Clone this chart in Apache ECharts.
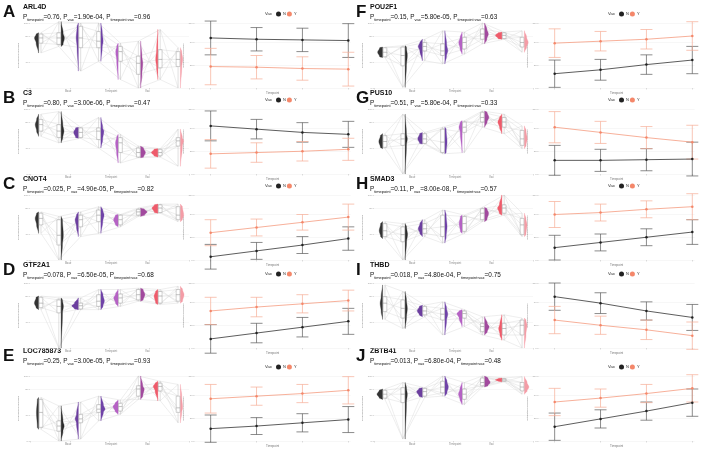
<!DOCTYPE html>
<html><head><meta charset="utf-8">
<script src="https://cdn.jsdelivr.net/npm/echarts@6/dist/echarts.min.js"></script>
<style>html,body{margin:0;padding:0;background:#fff}#c{width:708px;height:454px}</style>
</head><body><div id="c"></div>
<script>
// ---------- data ----------
const panelLetters = ['A','B','C','D','E','F','G','H','I','J'];
const genes = ['ARL4D','C3','CNOT4','GTF2A1','LOC785873','POU2F1','PUS10','SMAD3','THBD','ZBTB41'];
const pTimepoint = ['0.76','0.80','0.025','0.078','0.25','0.15','0.51','0.11','0.018','0.013'];
const pVax = ['1.90e-04','3.00e-06','4.90e-05','6.50e-05','3.00e-05','5.80e-05','5.80e-04','8.00e-08','4.80e-04','6.80e-04'];
const pInteraction = ['0.96','0.47','0.82','0.68','0.93','0.63','0.33','0.57','0.75','0.48'];
const groups = ['N-1','N-2','N-3','N-4','Y-1','Y-2','Y-3','Y-4'];
const timepoints = [1, 2, 3, 4];
const violinAxisLabels = ['Base', 'Timepoint', 'Vax'];

// per group: [min, q1, median, q3, max]
const statsA = [[54,69,77,83,85],[64,67,77,85,102],[26,62,77,95,100],[41,62,72,87,100],[13,41,56,64,69],[0,21,38,49,72],[13,31,44,59,90],[0,33,44,56,62]];
const statsB = [[58,66,76,84,92],[48,56,66,76,96],[55,56,64,71,72],[40,53,66,71,87],[17,33,48,56,61],[25,26,33,40,43],[26,28,33,38,39],[12,43,51,56,69]];
const statsC = [[41,54,64,72,74],[0,23,38,62,67],[36,51,62,69,74],[41,59,69,77,82],[51,54,62,69,70],[67,69,74,78,80],[72,73,80,85,86],[59,62,69,82,86]];
const statsD = [[59,62,69,78,80],[0,54,64,74,77],[59,60,65,69,77],[59,64,72,82,90],[64,69,77,83,90],[72,74,82,90,92],[67,69,80,87,90],[69,72,82,90,95]];
const statsE = [[18,21,44,64,67],[0,15,23,31,54],[3,28,34,41,60],[31,44,49,56,69],[41,46,53,58,63],[64,69,80,85,100],[62,77,84,89,92],[28,44,51,69,87]];
const statsF = [[47,48,55,62,63],[1,34,50,63,65],[42,57,64,70,75],[37,50,57,68,88],[52,60,70,78,86],[68,75,83,91,100],[75,76,81,85,86],[55,63,70,78,88]];
const statsG = [[39,41,50,59,62],[0,44,54,62,92],[46,47,54,62,64],[31,33,49,69,72],[33,64,72,80,82],[72,80,87,95,97],[62,72,80,87,92],[39,44,54,67,74]];
const statsH = [[33,36,45,56,59],[0,28,39,51,56],[36,41,48,56,62],[26,36,51,69,77],[41,44,56,67,69],[59,62,72,79,81],[69,72,80,85,100],[36,39,54,64,72]];
const statsI = [[44,56,69,79,97],[30,46,61,74,87],[48,51,57,64,66],[20,43,52,61,71],[33,46,53,57,59],[20,25,33,38,48],[12,20,30,38,51],[0,20,35,43,46]];
const statsJ = [[64,66,72,78,80],[3,59,72,82,90],[67,69,76,81,82],[69,74,83,92,100],[56,64,72,80,90],[83,85,90,97,100],[91,92,94,96,97],[72,77,83,90,99]];

// line plots: mean and error half-width per timepoint
const meanN = [[77,75,74,73],[74,69,64,61],[5,14,23,33],[14,23,32,41],[19,23,28,33],[22,28,36,43],[21,21,22,23],[19,27,35,43],[79,69,57,47],[22,34,46,59]];
const errN  = [[26,18,18,26],[23,15,15,20],[19,13,13,18],[22,15,15,20],[21,13,14,20],[21,16,15,21],[23,17,17,26],[19,13,13,19],[21,16,14,20],[21,14,14,21]];
const meanY = [[33,32,30,29],[31,33,35,38],[42,50,58,66],[57,63,68,73],[65,69,73,78],[69,72,75,80],[72,64,56,49],[70,73,78,82],[43,35,28,19],[60,66,73,81]];
const errY  = [[28,18,18,26],[22,15,15,17],[20,13,12,20],[21,15,14,16],[22,14,14,21],[22,15,15,22],[24,17,17,26],[20,13,13,20],[21,14,15,21],[21,14,14,21]];

const violinStats = [statsA,statsB,statsC,statsD,statsE,statsF,statsG,statsH,statsI,statsJ];

// ---------- layout & styles ----------
const violinColors = ['#333333','#2b2b2b','#6c3f9f','#7043a8','#b562c4','#a24a9e','#ee5b6b','#f49ca6'];
const colN = '#222222', colY = '#f4876a';
const errColN = '#5a5a5a', errColY = '#f6ad96';
const FONT = 'Liberation Sans, Arial, sans-serif';
const ROW_H = 86;
const GRID_BOTTOM = [88, 174, 260, 348, 441];
const GRID_H = 65;

const chart = echarts.init(document.getElementById('c'), null, {renderer:'canvas'});
const grids=[], xAxes=[], yAxes=[], series=[], graphics=[], legends=[];

function violinRender(params, api){
  const i = api.value(0);
  const s = [1,2,3,4,5].map(d=>api.value(d));
  const c = api.coord([i, 0])[0];
  const isLeft = i % 2 === 0;
  const base = isLeft ? c - 1.3 : c + 1.3;
  const dir = isLeft ? -1 : 1;
  const iqr = Math.max(s[3]-s[1], 0.5);
  const W = Math.max(2.2, Math.min(6.5, 90/(iqr + 0.25*(s[4]-s[0]))));
  const nodes = [[s[0],0.05],[s[1],0.6],[s[2],1],[s[3],0.6],[s[4],0.05]];
  const pts = [[base, api.coord([i,s[0]])[1]]];
  const N = 40;
  for (let k=0;k<=N;k++){
    const v = s[0] + (s[4]-s[0])*k/N;
    let f = 0;
    for (let j=0;j<4;j++){
      if (v >= nodes[j][0] && v <= nodes[j+1][0]){
        const len = nodes[j+1][0]-nodes[j][0];
        const t = len>0 ? (v-nodes[j][0])/len : 1;
        const e = (1-Math.cos(Math.PI*t))/2;
        f = nodes[j][1] + (nodes[j+1][1]-nodes[j][1])*e;
        break;
      }
    }
    pts.push([base + dir*W*f, api.coord([i,v])[1]]);
  }
  pts.push([base, api.coord([i,s[4]])[1]]);
  const bw = 3.8;
  const bx0 = isLeft ? c - 0.9 : c - 2.9;
  const bc = bx0 + bw/2;
  const y = s.map(v=>api.coord([i,v])[1]);
  const col = violinColors[i];
  return {type:'group', children:[
    {type:'polygon', shape:{points:pts}, style:{fill:col, stroke:col, lineWidth:0.3}},
    {type:'line', shape:{x1:bc,y1:y[3],x2:bc,y2:y[4]}, style:{stroke:'#b0b0b0', lineWidth:0.4}},
    {type:'line', shape:{x1:bc,y1:y[1],x2:bc,y2:y[0]}, style:{stroke:'#b0b0b0', lineWidth:0.4}},
    {type:'rect', shape:{x:bx0, y:y[3], width:bw, height:Math.max(0.5,y[1]-y[3])}, style:{fill:'rgba(255,255,255,0.6)', stroke:'#9a9a9a', lineWidth:0.45}},
    {type:'line', shape:{x1:bx0,y1:y[2],x2:bx0+bw,y2:y[2]}, style:{stroke:'#8a8a8a', lineWidth:0.5}}
  ]};
}
function boxCenterOffset(i){ return i % 2 === 0 ? 1 : -1; }
function meshRender(params, api){
  const i0 = api.value(0), i1 = api.value(2);
  const a = api.coord([i0, api.value(1)]);
  const b = api.coord([i1, api.value(3)]);
  return {type:'line', shape:{x1:a[0]+boxCenterOffset(i0), y1:a[1], x2:b[0]+boxCenterOffset(i1), y2:b[1]}, style:{stroke:'#d8d8d8', lineWidth:0.45}};
}
function errRender(color){
  return function(params, api){
    const x = api.value(0), m = api.value(1), e = api.value(2);
    const t = api.coord([x, m+e]), b = api.coord([x, m-e]);
    const hw = 6;
    return {type:'group', children:[
      {type:'line', shape:{x1:t[0],y1:t[1],x2:b[0],y2:b[1]}, style:{stroke:color, lineWidth:0.7}},
      {type:'line', shape:{x1:t[0]-hw,y1:t[1],x2:t[0]+hw,y2:t[1]}, style:{stroke:color, lineWidth:0.7}},
      {type:'line', shape:{x1:b[0]-hw,y1:b[1],x2:b[0]+hw,y2:b[1]}, style:{stroke:color, lineWidth:0.7}}
    ]};
  };
}

for (let p=0;p<10;p++){
  const col = p<5 ? 0 : 1, row = p%5;
  const top = row*ROW_H;
  const vLeft = col ? 374 : 30, vW = 159;
  const lLeft = col ? 538.6 : 194.6, lW = 156;
  const gBottom = GRID_BOTTOM[row];
  const gTop = gBottom - GRID_H;
  const gi = grids.length;
  grids.push({left:vLeft, top:gTop, width:vW, height:GRID_H});
  grids.push({left:lLeft, top:gTop, width:lW, height:GRID_H});
  xAxes.push({type:'category', gridIndex:gi, data:groups, boundaryGap:true,
    axisLine:{show:false}, axisTick:{show:true, length:1.5, lineStyle:{color:'#bbbbbb', width:0.5}},
    axisLabel:{show:false}});
  yAxes.push({type:'value', gridIndex:gi, min:0, max:100, interval:40,
    name:'Normalized expression', nameLocation:'middle', nameGap:5, nameRotate:90,
    nameTextStyle:{fontSize:2.5, color:'#888', fontFamily:FONT},
    axisLine:{show:false}, axisTick:{show:true, length:1.5, lineStyle:{color:'#bbbbbb', width:0.5}},
    axisLabel:{show:true, fontSize:2.5, color:'#999', margin:2, fontFamily:FONT},
    splitLine:{show:true, lineStyle:{color:'#efefef', width:0.5}}});
  xAxes.push({type:'value', gridIndex:gi+1, min:0.65, max:4.05,
    name:'Timepoint', nameLocation:'middle', nameGap:4, nameTextStyle:{fontSize:3, color:'#777', fontFamily:FONT},
    axisLine:{show:false}, axisTick:{show:true, length:1.5, customValues:timepoints, lineStyle:{color:'#bbbbbb', width:0.5}},
    axisLabel:{show:false}, splitLine:{show:false}});
  yAxes.push({type:'value', gridIndex:gi+1, min:0, max:100, interval:35,
    name:'Estimated expression', nameLocation:'middle', nameGap:5, nameRotate:90,
    nameTextStyle:{fontSize:2.5, color:'#888', fontFamily:FONT},
    axisLine:{show:false}, axisTick:{show:true, length:1.5, lineStyle:{color:'#bbbbbb', width:0.5}},
    axisLabel:{show:true, fontSize:2.5, color:'#999', margin:2, fontFamily:FONT},
    splitLine:{show:true, lineStyle:{color:'#efefef', width:0.5}}});
  const xi = xAxes.length-2, yi = yAxes.length-2;
  const st = violinStats[p];
  const mesh = [];
  for (let i=0;i<7;i++){
    for (let k=0;k<5;k++){
      mesh.push([i, st[i][k], i+1, st[i+1][k]]);
      if (k!==2) mesh.push([i, st[i][k], i+1, st[i+1][4-k]]);
    }
  }
  series.push({type:'custom', xAxisIndex:xi, yAxisIndex:yi, renderItem:meshRender,
    data:mesh, encode:{x:[0,2], y:[1,3]}, z:1, silent:true});
  series.push({type:'custom', xAxisIndex:xi, yAxisIndex:yi, renderItem:violinRender,
    data:st.map((s,i)=>[i].concat(s)), encode:{x:0, y:[1,2,3,4,5]}, z:2, silent:true});
  const dN = timepoints.map((t,k)=>[t, meanN[p][k], errN[p][k]]);
  const dY = timepoints.map((t,k)=>[t, meanY[p][k], errY[p][k]]);
  series.push({type:'custom', xAxisIndex:xi+1, yAxisIndex:yi+1, renderItem:errRender(errColN), data:dN, encode:{x:0,y:1}, z:2, silent:true});
  series.push({type:'custom', xAxisIndex:xi+1, yAxisIndex:yi+1, renderItem:errRender(errColY), data:dY, encode:{x:0,y:1}, z:2, silent:true});
  series.push({name:'N', type:'line', xAxisIndex:xi+1, yAxisIndex:yi+1, data:dN.map(d=>[d[0],d[1]]),
    symbol:'circle', symbolSize:2.5, itemStyle:{color:colN}, lineStyle:{color:'#333333', width:0.8}, z:3, silent:true});
  series.push({name:'Y', type:'line', xAxisIndex:xi+1, yAxisIndex:yi+1, data:dY.map(d=>[d[0],d[1]]),
    symbol:'circle', symbolSize:2.5, itemStyle:{color:colY}, lineStyle:{color:'#f59c80', width:0.8}, z:3, silent:true});
  const lgLeft = col ? 619 : 276;
  const lgTop = gTop - 11.5;
  legends.push({left:lgLeft, top:lgTop, padding:0, data:['N','Y'], icon:'circle', itemWidth:5, itemHeight:5, itemGap:1,
    selectedMode:false, textStyle:{fontSize:4, color:'#333', fontFamily:FONT, padding:[0,0,0,-3]}});
  graphics.push({type:'text', left:lgLeft-11, top:lgTop+0.5, style:{text:'Vax', fontSize:4.2, fill:'#333', fontFamily:FONT}});
  const tx = col ? 356 : 3;
  graphics.push({type:'text', left:tx, top:top+4, style:{text:panelLetters[p], font:'bold 17px '+FONT, fill:'#111'}});
  const gx = col ? 370 : 23;
  graphics.push({type:'text', left:gx, top:top+4, style:{text:genes[p], font:'bold 7px '+FONT, fill:'#111'}});
  graphics.push({type:'text', left:gx, top:top+14.5, style:{
    text:'{m|P}{s|timepoint}{m|='+pTimepoint[p]+', P}{s|vax}{m|='+pVax[p]+', P}{s|timepoint:vax}{m|='+pInteraction[p]+'}',
    rich:{m:{fontSize:6.4, lineHeight:9, fontFamily:FONT, fill:'#111', verticalAlign:'middle'},
          s:{fontSize:4, lineHeight:9, fontFamily:FONT, fill:'#111', verticalAlign:'bottom'}}}});
  const capOff = [35, 75, 115];
  violinAxisLabels.forEach((t,k)=>{
    graphics.push({type:'text', left:vLeft+capOff[k], top:gBottom+2, style:{text:t, fontSize:2.8, fill:'#888', fontFamily:FONT}});
  });
}

chart.setOption({
  animation:false,
  backgroundColor:'#ffffff',
  textStyle:{fontFamily:FONT},
  grid:grids, xAxis:xAxes, yAxis:yAxes, series:series, legend:legends, graphic:graphics
});
</script></body></html>
